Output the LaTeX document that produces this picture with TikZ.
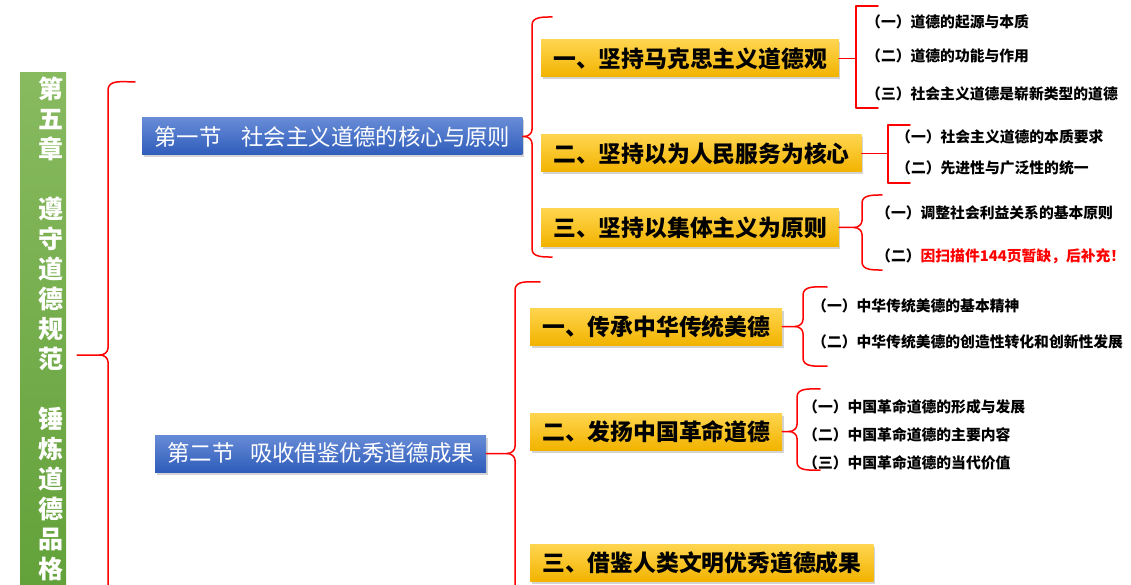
\documentclass[tikz,border=0pt]{standalone}
\usepackage{fontspec}
\newfontfamily\cjk{Noto Sans CJK SC}
\usetikzlibrary{calc,shadows}
\definecolor{lvshang}{HTML}{88BA60}
\definecolor{lvxia}{HTML}{5F9F36}
\definecolor{lanshang}{HTML}{678BD6}
\definecolor{lanxia}{HTML}{2F5DBB}
\definecolor{huangshang}{HTML}{FFD54F}
\definecolor{huangxia}{HTML}{F2B300}
% curly brace: tip, spine x, top y, bottom y, hook end x
\newcommand{\kuohao}[5]{%
	\draw[kh] (#5,#3) to[out=180,in=90] (#2,#3+8)
		-- ($(#1 -| #2,0)+(0,-7)$) to[out=-90,in=0] ($(#1 -| #2,0)+(-8,0)$) -- (#1);
	\draw[kh] ($(#1 -| #2,0)+(-8,0)$) to[out=0,in=90] ($(#1 -| #2,0)+(0,7)$)
		-- (#2,#4-8) to[out=-90,in=180] (#5,#4);}
% square bracket
\newcommand{\fangkuo}[5]{%
	\draw[kh] (#5,#3) -- (#2,#3) -- (#2,#4) -- (#5,#4);
	\draw[kh] (#1) -- (#1 -| #2,0);}
\begin{document}
\begin{tikzpicture}[x=1pt, y=-1pt, font=\cjk, line join=round, line cap=round,
	kh/.style={draw=red, line width=1.5pt},
	zhangbox/.style={top color=lvshang, bottom color=lvxia, minimum width=46pt, minimum height=564pt, inner sep=0pt},
	jiebox/.style={top color=lanshang, bottom color=lanxia, text=white, minimum height=37pt, inner xsep=12pt, anchor=west,
		font=\cjk\fontsize{22.4}{26}\selectfont,
		drop shadow={shadow xshift=1.5pt, shadow yshift=-2.5pt, opacity=0.35}},
	tiaobox/.style={top color=huangshang, bottom color=huangxia, minimum height=37pt, inner xsep=12pt, anchor=west,
		font=\cjk\bfseries\fontsize{22.8}{26}\selectfont,
		drop shadow={shadow xshift=1.5pt, shadow yshift=-2.5pt, opacity=0.35}},
	mu/.style={anchor=west, inner sep=0pt, font=\cjk\bfseries\fontsize{14.8}{17}\selectfont}]
	\useasboundingbox (0,0) rectangle (1131,585);
	\clip (0,0) rectangle (1131,585);
	
	\node[zhangbox] (zhang) at (43,355) {};
	\node[anchor=north, inner sep=0pt, text=white, align=center, font=\cjk\bfseries\fontsize{25}{30}\selectfont] (zhangti) at (51,77)
		{第\\五\\章\\\mbox{}\\遵\\守\\道\\德\\规\\范\\\mbox{}\\锤\\炼\\道\\德\\品\\格};
	\coordinate (zhangjian) at ([xshift=11pt]zhang.east);
	
	\node[jiebox] (s1) at (142,136.5) {第一节\hspace{0.9em}社会主义道德的核心与原则};
	\node[jiebox] (s2) at (155,453.5) {第二节\hspace{0.7em}吸收借鉴优秀道德成果};
	
	\node[tiaobox] (a1) at (541,58.5) {一、坚持马克思主义道德观};
	\node[tiaobox] (a2) at (541,153.5) {二、坚持以为人民服务为核心};
	\node[tiaobox] (a3) at (541,227.5) {三、坚持以集体主义为原则};
	\node[tiaobox] (b1) at (530,326.5) {一、传承中华传统美德};
	\node[tiaobox] (b2) at (530,431.5) {二、发扬中国革命道德};
	\node[tiaobox] (b3) at (530,563) {三、借鉴人类文明优秀道德成果};
	
	\node[mu] (c11) at (866,22) {（一）道德的起源与本质};
	\node[mu] (c12) at (866,56) {（二）道德的功能与作用};
	\node[mu] (c13) at (866,94) {（三）社会主义道德是崭新类型的道德};
	\node[mu] (c21) at (896,137) {（一）社会主义道德的本质要求};
	\node[mu] (c22) at (896,168) {（二）先进性与广泛性的统一};
	\node[mu] (c31) at (876,213) {（一）调整社会利益关系的基本原则};
	\node[mu] (c32) at (876,256) {（二）\textcolor{red}{因扫描件144页暂缺，后补充！}};
	\node[mu] (d11) at (812,306) {（一）中华传统美德的基本精神};
	\node[mu] (d12) at (812,342) {（二）中华传统美德的创造性转化和创新性发展};
	\node[mu] (d21) at (803,407) {（一）中国革命道德的形成与发展};
	\node[mu] (d22) at (803,435) {（二）中国革命道德的主要内容};
	\node[mu] (d23) at (803,463) {（三）中国革命道德的当代价值};
	
	\kuohao{zhangjian}{108}{82}{640}{135}
	\kuohao{s1.east}{532}{17}{257}{552}
	\kuohao{s2.east}{515}{282}{650}{540}
	\fangkuo{a1.east}{856}{6}{108}{878}
	\fangkuo{a2.east}{888}{125}{183}{910}
	\kuohao{a3.east}{862}{195}{270}{882}
	\kuohao{b1.east}{803}{287}{366}{827}
	\kuohao{b2.east}{797}{389}{470}{820}
\end{tikzpicture}
\end{document}
